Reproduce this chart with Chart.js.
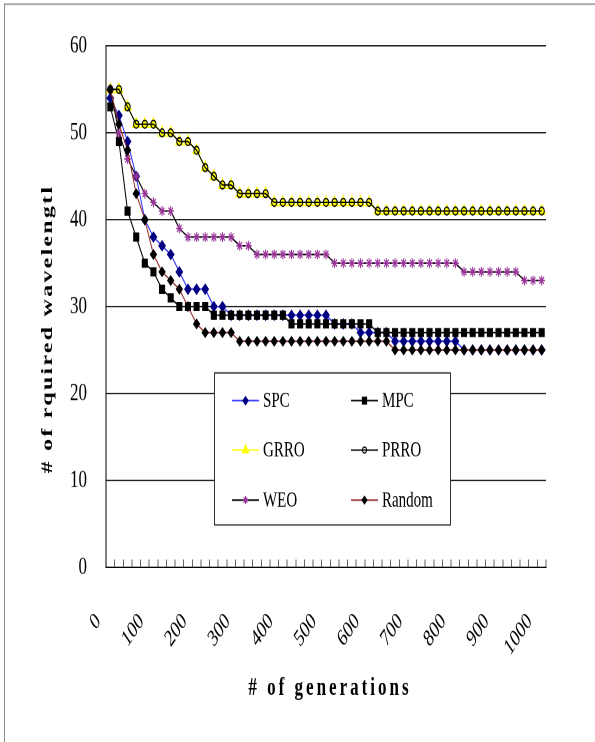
<!DOCTYPE html>
<html>
<head>
<meta charset="utf-8">
<script src="https://cdn.jsdelivr.net/npm/chart.js@4.4.1/dist/chart.umd.min.js"></script>
<style>
  body { margin: 0; background: #fff; }
  #wrap { position: absolute; left: 0; top: 0; width: 595px; height: 495px;
          transform: scale(1, 1.49899); transform-origin: 0 0; }
</style>
</head>
<body>
<div id="wrap"><canvas id="chart" width="595" height="495" style="width:595px;height:495px"></canvas></div>
<script>
  // generations (x categories) and the tick labels that are shown
  const generations = ['0','20','40','60','80','100','120','140','160','180','200','220','240','260','280','300',
    '320','340','360','380','400','420','440','460','480','500','520','540','560','580','600','620','640','660',
    '680','700','720','740','760','780','800','820','840','860','880','900','920','940','960','980','1000'];
  const shownLabels = ['0','100','200','300','400','500','600','700','800','900','1000'];
  const yTicks = [0, 10, 20, 30, 40, 50, 60];

  // # of required wavelengths per method
  const spc = [54,52,49,45,40,38,37,36,34,32,32,32,30,30,
    29,29,29,29,29,29,29,29,29,29,29,29,28,28,28,27,27,27,27,
    26,26,26,26,26,26,26,26,25,25,25,25,25,25,25,25,25,25];
  const mpc = [53,49,41,38,35,34,32,31,30,30,30,30,
    29,29,29,29,29,29,29,29,29,28,28,28,28,28,28,28,28,28,28,
    27,27,27,27,27,27,27,27,27,27,27,27,27,27,27,27,27,27,27,27];
  const grro = [55,55,53,51,51,51,50,50,49,49,48,46,45,44,44,43,43,43,43,
    42,42,42,42,42,42,42,42,42,42,42,42,
    41,41,41,41,41,41,41,41,41,41,41,41,41,41,41,41,41,41,41,41];
  const prro = [55,55,53,51,51,51,50,50,49,49,48,46,45,44,44,43,43,43,43,
    42,42,42,42,42,42,42,42,42,42,42,42,
    41,41,41,41,41,41,41,41,41,41,41,41,41,41,41,41,41,41,41,41];
  const weo = [55,50,47,45,43,42,41,41,39,38,38,38,38,38,38,37,37,
    36,36,36,36,36,36,36,36,36,
    35,35,35,35,35,35,35,35,35,35,35,35,35,35,35,
    34,34,34,34,34,34,34,33,33,33];
  const random = [55,51,48,43,40,36,34,33,32,30,28,27,27,27,27,
    26,26,26,26,26,26,26,26,26,26,26,26,26,26,26,26,26,26,
    25,25,25,25,25,25,25,25,25,25,25,25,25,25,25,25,25,25];

  const serif = '"Liberation Serif", "Times New Roman", serif';

  const frame = {
    id: 'frame',
    beforeDraw(chart) {
      const ctx = chart.ctx;
      ctx.save();
      ctx.fillStyle = '#fff';
      ctx.fillRect(0, 0, chart.width, chart.height);
      ctx.strokeStyle = '#8c8c8c';
      ctx.lineWidth = 1;
      ctx.beginPath();
      ctx.moveTo(4.5, chart.height);
      ctx.lineTo(4.5, 2.7);
      ctx.lineTo(chart.width, 2.7);
      ctx.stroke();
      ctx.restore();
    }
  };

  const titlesAndLegend = {
    id: 'titlesAndLegend',
    afterDraw(chart) {
      const ctx = chart.ctx;
      ctx.save();
      ctx.fillStyle = '#000';
      ctx.textAlign = 'center';
      ctx.textBaseline = 'middle';
      ctx.font = 'bold 16px ' + serif;
      ctx.letterSpacing = '1.5px';
      ctx.translate(48, 219.5);
      ctx.rotate(-Math.PI / 2);
      ctx.fillText('# of rquired wavelengtl', 0, 0);
      ctx.restore();

      ctx.save();
      ctx.fillStyle = '#000';
      ctx.textAlign = 'center';
      ctx.textBaseline = 'middle';
      ctx.font = 'bold 17px ' + serif;
      ctx.letterSpacing = '3px';
      ctx.fillText('# of generations', 330, 459);
      ctx.restore();

      // legend box inside the plot
      ctx.save();
      ctx.fillStyle = '#fff';
      ctx.fillRect(214, 248.8, 236, 101.4);
      ctx.strokeStyle = '#333';
      ctx.lineWidth = 1;
      ctx.strokeRect(214.5, 248.8, 236, 101.4);
      const rows = [267.3, 300.2, 333.6];
      const cols = [232, 351];
      chart.data.datasets.forEach((ds, i) => {
        const x = cols[i % 2], y = rows[Math.floor(i / 2)];
        ctx.strokeStyle = ds.borderColor;
        ctx.lineWidth = 1;
        ctx.beginPath();
        ctx.moveTo(x, y);
        ctx.lineTo(x + 27, y);
        ctx.stroke();
        ctx.fillStyle = ds.pointBackgroundColor;
        ctx.strokeStyle = ds.pointBorderColor;
        ctx.lineWidth = ds.pointBorderWidth || 1;
        Chart.helpers.drawPoint(ctx, {
          pointStyle: ds.pointStyle, radius: ds.legendRadius, rotation: 0,
          borderWidth: ds.pointBorderWidth || 1
        }, x + 13.5, y);
        ctx.fillStyle = '#000';
        ctx.font = '15px ' + serif;
        ctx.textAlign = 'left';
        ctx.textBaseline = 'middle';
        ctx.fillText(ds.label, x + 31, y + 0.5);
      });
      ctx.restore();
    }
  };

  new Chart(document.getElementById('chart'), {
    type: 'line',
    data: {
      labels: generations,
      datasets: [
        { label: 'SPC', data: spc, borderColor: '#3333ff', pointStyle: 'rectRot', pointRadius: 3.2,
          pointBackgroundColor: '#000080', pointBorderColor: '#000080', legendRadius: 2.6, order: 6 },
        { label: 'MPC', data: mpc, borderColor: '#000000', pointStyle: 'rect', pointRadius: 3.6,
          pointBackgroundColor: '#000000', pointBorderColor: '#000000', legendRadius: 3, order: 5 },
        { label: 'GRRO', data: grro, borderColor: '#ffff00', pointStyle: 'triangle', pointRadius: 4.2,
          pointBackgroundColor: '#ffff00', pointBorderColor: '#ffff00', legendRadius: 3.4, order: 4 },
        { label: 'PRRO', data: prro, borderColor: '#000000', pointStyle: 'circle', pointRadius: 2.6,
          pointBackgroundColor: 'rgba(0,0,0,0)', pointBorderColor: '#000000', legendRadius: 2, order: 3 },
        { label: 'WEO', data: weo, borderColor: '#000000', pointStyle: 'star', pointRadius: 3.3,
          pointBackgroundColor: '#993399', pointBorderColor: '#993399', pointBorderWidth: 1, legendRadius: 2.6, order: 2 },
        { label: 'Random', data: random, borderColor: '#993333', pointStyle: 'rectRot', pointRadius: 3,
          pointBackgroundColor: '#000000', pointBorderColor: '#000000', legendRadius: 2.4, order: 1 }
      ]
    },
    options: {
      responsive: false,
      animation: false,
      devicePixelRatio: 2,
      layout: { padding: { left: 0, right: 49, top: 30.7, bottom: 0 } },
      elements: { line: { borderWidth: 1, tension: 0 }, point: { borderWidth: 1, hoverRadius: 4 } },
      plugins: { legend: { display: false }, tooltip: { enabled: false } },
      scales: {
        x: {
          type: 'category',
          offset: true,
          grid: { offset: true, drawOnChartArea: false, drawTicks: true, tickLength: -5, color: '#666', lineWidth: 1 },
          border: { display: true, color: '#000', width: 1 },
          ticks: {
            autoSkip: false, minRotation: 45, maxRotation: 45, padding: 32, labelOffset: -12,
            color: '#000', font: { family: serif, size: 16 },
            callback(value) {
              const lab = this.getLabelForValue(value);
              return shownLabels.includes(lab) ? lab : '';
            }
          },
          afterFit(scale) { scale.height = 116.7; }
        },
        y: {
          min: yTicks[0],
          max: yTicks[yTicks.length - 1],
          ticks: { stepSize: 10, padding: 19, color: '#000', font: { family: serif, size: 17 } },
          grid: { color: '#222', lineWidth: 1, drawTicks: false },
          border: { display: true, color: '#000', width: 1 },
          afterFit(scale) { scale.width = 106; }
        }
      }
    },
    plugins: [frame, titlesAndLegend]
  });
</script>
</body>
</html>
